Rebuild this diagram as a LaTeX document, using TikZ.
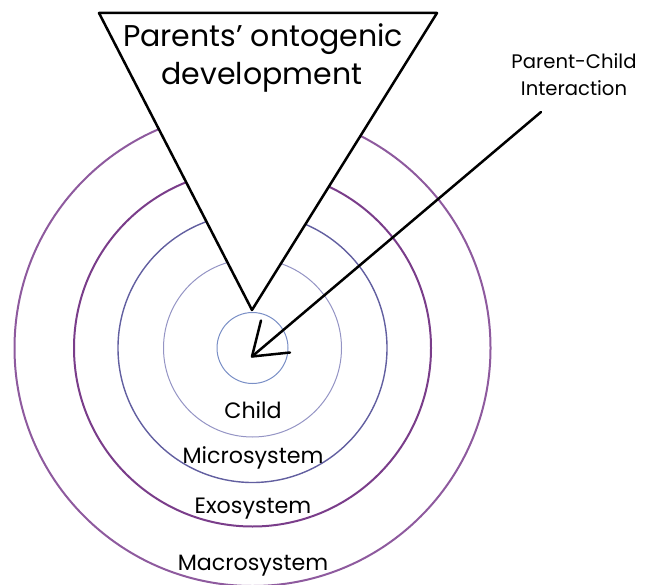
\documentclass[tikz,border=0pt]{standalone}
\usepackage{fontspec}
\setmainfont{Poppins}
\definecolor{cA}{HTML}{7A8FC6}
\definecolor{cB}{HTML}{9494C4}
\definecolor{cC}{HTML}{625FA0}
\definecolor{cD}{HTML}{7A3D8A}
\definecolor{cE}{HTML}{8E5A9E}
\tikzset{
  lbl/.style={anchor=base,inner sep=0pt,font=\fontsize{22.2}{26}\selectfont},
  big/.style={anchor=base,inner sep=0pt,font=\fontsize{30}{35}\selectfont},
  small/.style={anchor=base,inner sep=0pt,font=\fontsize{19.6}{23}\selectfont},
  blk/.style={draw=black,line width=2.5pt,line cap=round,line join=round}
}
\begin{document}
\begin{tikzpicture}[x=1pt,y=-1pt]
\useasboundingbox (0,0) rectangle (652,585);
\coordinate (c) at (252.5,348);
\draw[cE,line width=2pt] (c) circle[radius=238];
\draw[cD,line width=2pt] (c) circle[radius=178.5];
\draw[cC,line width=1.4pt] (c) circle[radius=134.5];
\draw[cB,line width=1pt] (c) circle[radius=89];
\draw[cA,line width=1pt] (c) circle[radius=35.5];
\coordinate (t1) at (99,13);
\coordinate (t2) at (437,13);
\coordinate (t3) at (252,310);
\draw[blk,fill=white] (t1) -- (t2) -- (t3) -- cycle;
\node[big] (p1) at (263,46.5) {Parents’ ontogenic};
\node[big] (p2) at (262,85) {development};
\node[small] (q1) at (574,68.5) {Parent-Child};
\node[small] (q2) at (574,95.5) {Interaction};
\coordinate (v) at (252,356.5);
\coordinate (e1) at (261,320.5);
\coordinate (e2) at (290,352.5);
\coordinate (e3) at (541,112);
\draw[blk] (e1) -- (v) -- (e2);
\draw[blk] (v) -- (e3);
\node[lbl] (l1) at (253,418) {Child};
\node[lbl] (l2) at (253,463) {Microsystem};
\node[lbl] (l3) at (253,513) {Exosystem};
\node[lbl] (l4) at (253,570) {Macrosystem};
\end{tikzpicture}
\end{document}
